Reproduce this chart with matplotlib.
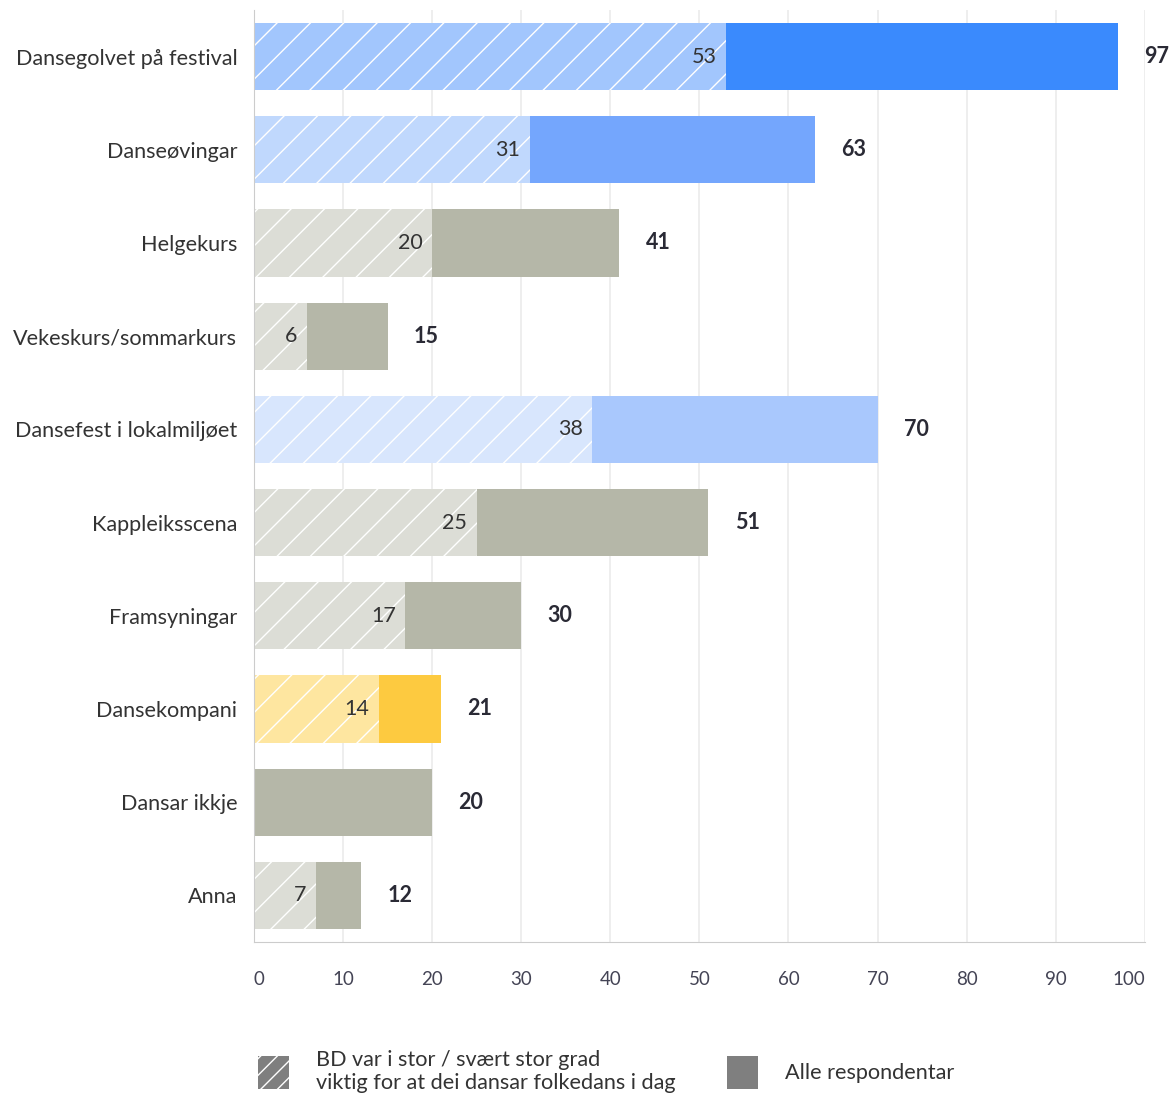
import matplotlib
import matplotlib.pyplot as plt
from matplotlib.patches import Patch

matplotlib.use('Agg')

categories = ["Dansegolvet på festival", "Danseøvingar", "Helgekurs",
              "Vekeskurs/sommarkurs", "Dansefest i lokalmiljøet", "Kappleiksscena",
              "Framsyningar", "Dansekompani", "Dansar ikkje", "Anna"]
alle = [97, 63, 41, 15, 70, 51, 30, 21, 20, 12]
bd = [53, 31, 20, 6, 38, 25, 17, 14, 0, 7]

grey, grey_l = '#b5b7a8', '#dcddd6'
full_colors = ['#3a8afd', '#74a6fd', grey, grey, '#a9c8fd', grey, grey, '#fdca40', grey, grey]
light_colors = ['#a2c6fd', '#c0d8fd', grey_l, grey_l, '#d8e6fd', grey_l, grey_l, '#fee6a0', grey_l, grey_l]

plt.rcParams['font.family'] = ['Lato', 'DejaVu Sans']
plt.rcParams['hatch.color'] = 'white'
plt.rcParams['hatch.linewidth'] = 1.0

fig = plt.figure(figsize=(11.73, 10.97), dpi=100)
ax = fig.add_axes([0.2165, 0.1413, 0.7595, 0.8496])

y = list(range(len(categories)))
ax.barh(y, alle, height=0.72, color=full_colors, zorder=2)
ax.barh(y, bd, height=0.72, color=light_colors, hatch='/', edgecolor='white',
        linewidth=0, zorder=3)

for i in y:
    if bd[i]:
        ax.annotate(str(bd[i]), (bd[i], i), xytext=(-7, 0), textcoords='offset points',
                    ha='right', va='center', fontsize=15.5, color='#333333', zorder=4)
    ax.annotate(str(alle[i]), (alle[i], i), xytext=(19, 0), textcoords='offset points',
                ha='left', va='center', fontsize=15.5, fontweight='bold', color='#2a2a35')

ax.set_xlim(0, 100)
ax.set_ylim(len(categories) - 0.5, -0.5)
ax.set_xticks(range(0, 101, 10))
ax.set_yticks(y)
ax.set_yticklabels(categories, fontsize=15.6, color='#333333')
ax.tick_params(axis='y', length=0, pad=12)
ax.tick_params(axis='x', length=0, pad=21, labelsize=13.5, labelcolor='#444455')
xt = ax.get_xticklabels()
xt[0].set_ha('left')
xt[-1].set_ha('right')
ax.grid(axis='x', color='#ebebeb', linewidth=1.2, zorder=0)
for s in ['top', 'right']:
    ax.spines[s].set_visible(False)
for s in ['left', 'bottom']:
    ax.spines[s].set_color('#cccccc')
    ax.spines[s].set_zorder(5)

handles = [Patch(facecolor='#7f7f7f', hatch='//', edgecolor='white', linewidth=0),
           Patch(facecolor='#7f7f7f', linewidth=0)]
labels = ["BD var i stor / svært stor grad\nviktig for at dei dansar folkedans i dag",
          "Alle respondentar"]
fig.legend(handles, labels, loc='lower left', bbox_to_anchor=(0.203, -0.014), ncol=2,
           frameon=False, fontsize=15.6, handlelength=1.45, handleheight=1.95,
           handletextpad=1.25, columnspacing=2.35, labelcolor='#333333')

fig.savefig('out.png', dpi=100)
plt.close(fig)
